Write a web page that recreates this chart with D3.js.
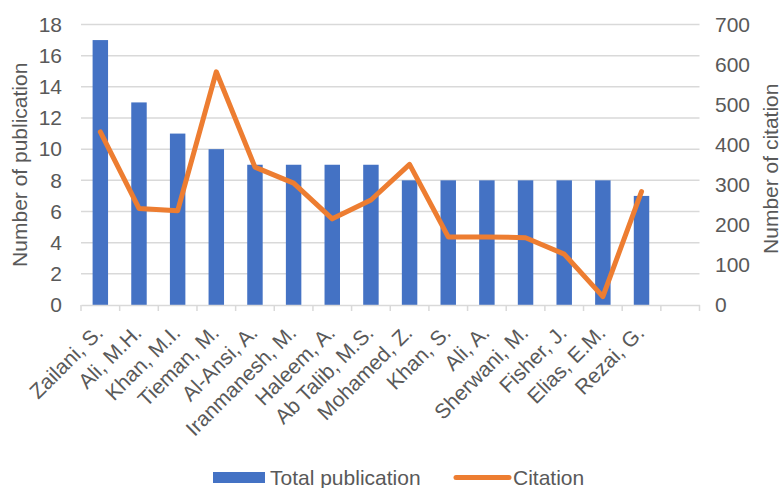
<!DOCTYPE html>
<html>
<head>
<meta charset="utf-8">
<script src="https://cdn.jsdelivr.net/npm/d3@7"></script>
<style>
  html, body { margin: 0; padding: 0; background: #fff; }
  svg { display: block; font-family: "Liberation Sans", Arial, sans-serif; }
</style>
</head>
<body>
<svg id="chart" width="781" height="488"></svg>
<script>
// Authors (the last slot is an empty category on the axis)
const authors = ["Zailani, S.", "Ali, M.H.", "Khan, M.I.", "Tieman, M.", "Al-Ansi, A.",
  "Iranmanesh, M.", "Haleem, A.", "Ab Talib, M.S.", "Mohamed, Z.", "Khan, S.",
  "Ali, A.", "Sherwani, M.", "Fisher, J.", "Elias, E.M.", "Rezai, G.", ""];
const totalPublication = [17, 13, 11, 10, 9, 9, 9, 9, 8, 8, 8, 8, 8, 8, 7];
const citation = [432, 241, 235, 582, 344, 304, 215, 262, 351, 170, 170, 168, 127, 21, 283];
const leftTicks = [0, 2, 4, 6, 8, 10, 12, 14, 16, 18];
const rightTicks = [0, 100, 200, 300, 400, 500, 600, 700];

const svg = d3.select("#chart");
const plot = { left: 81, right: 699.5, top: 24.5, bottom: 305 };
const fontSize = 21;
const textColor = "#595959";
const gridColor = "#d9d9d9";
const barColor = "#4472c4";
const lineColor = "#ed7d31";

const x = d3.scaleBand().domain(authors).range([plot.left, plot.right]).padding(0);
const yLeft = d3.scaleLinear().domain([0, 18]).range([plot.bottom, plot.top]);
const yRight = d3.scaleLinear().domain([0, 700]).range([plot.bottom, plot.top]);
const barW = x.step() * 0.4;
const cx = d => x(d) + x.bandwidth() / 2;

// horizontal gridlines from the left axis
svg.append("g")
  .selectAll("line").data(leftTicks.filter(t => t > 0)).join("line")
  .attr("x1", plot.left).attr("x2", plot.right)
  .attr("y1", d => yLeft(d)).attr("y2", d => yLeft(d))
  .attr("stroke", gridColor).attr("stroke-width", 1.5);

// bars
svg.append("g")
  .selectAll("rect").data(totalPublication).join("rect")
  .attr("x", (d, i) => cx(authors[i]) - barW / 2)
  .attr("width", barW)
  .attr("y", d => yLeft(d))
  .attr("height", d => yLeft(0) - yLeft(d))
  .attr("fill", barColor);

// category axis
const xAxis = svg.append("g").attr("transform", `translate(0,${plot.bottom})`)
  .call(d3.axisBottom(x).tickSize(0).tickFormat(""));
xAxis.select(".domain").attr("stroke", gridColor).attr("stroke-width", 1.5);
// tick marks sit on band boundaries
svg.append("g")
  .selectAll("line").data(d3.range(authors.length + 1)).join("line")
  .attr("x1", i => plot.left + i * x.step()).attr("x2", i => plot.left + i * x.step())
  .attr("y1", plot.bottom).attr("y2", plot.bottom + 6)
  .attr("stroke", gridColor).attr("stroke-width", 1.5);

// rotated category labels
svg.append("g")
  .selectAll("text").data(authors).join("text")
  .attr("transform", d => `translate(${cx(d) + 4},${plot.bottom + 29}) rotate(-45)`)
  .attr("text-anchor", "end")
  .attr("font-size", fontSize)
  .attr("fill", textColor)
  .text(d => d);

// left axis labels
const yAxisL = svg.append("g").attr("transform", `translate(${plot.left},0)`)
  .call(d3.axisLeft(yLeft).tickValues(leftTicks).tickSize(0).tickPadding(19));
yAxisL.select(".domain").remove();
yAxisL.selectAll("text").attr("font-size", fontSize).attr("fill", textColor)
  .attr("font-family", "Liberation Sans, Arial, sans-serif");

// right axis labels
const yAxisR = svg.append("g").attr("transform", `translate(${plot.right},0)`)
  .call(d3.axisRight(yRight).tickValues(rightTicks).tickSize(0).tickPadding(15.5));
yAxisR.select(".domain").remove();
yAxisR.selectAll("text").attr("font-size", fontSize).attr("fill", textColor)
  .attr("font-family", "Liberation Sans, Arial, sans-serif");

// citation line
const line = d3.line()
  .x((d, i) => cx(authors[i]))
  .y(d => yRight(d));
svg.append("path")
  .datum(citation)
  .attr("d", line)
  .attr("fill", "none")
  .attr("stroke", lineColor)
  .attr("stroke-width", 5)
  .attr("stroke-linejoin", "round")
  .attr("stroke-linecap", "round");

// axis titles
svg.append("text")
  .attr("transform", `translate(27,${(plot.top + plot.bottom) / 2}) rotate(-90)`)
  .attr("text-anchor", "middle").attr("font-size", fontSize).attr("fill", textColor)
  .text("Number of publication");
svg.append("text")
  .attr("transform", `translate(778,${(plot.top + plot.bottom) / 2 + 4}) rotate(-90)`)
  .attr("text-anchor", "middle").attr("font-size", fontSize).attr("fill", textColor)
  .text("Number of citation");

// legend
const legend = svg.append("g");
legend.append("rect").attr("x", 213).attr("y", 472).attr("width", 52).attr("height", 11)
  .attr("fill", barColor);
legend.append("text").attr("x", 270).attr("y", 485).attr("font-size", fontSize)
  .attr("fill", textColor).text("Total publication");
legend.append("line").attr("x1", 456).attr("x2", 509).attr("y1", 477.5).attr("y2", 477.5)
  .attr("stroke", lineColor).attr("stroke-width", 5).attr("stroke-linecap", "round");
legend.append("text").attr("x", 513).attr("y", 485).attr("font-size", fontSize)
  .attr("fill", textColor).text("Citation");
</script>
</body>
</html>
